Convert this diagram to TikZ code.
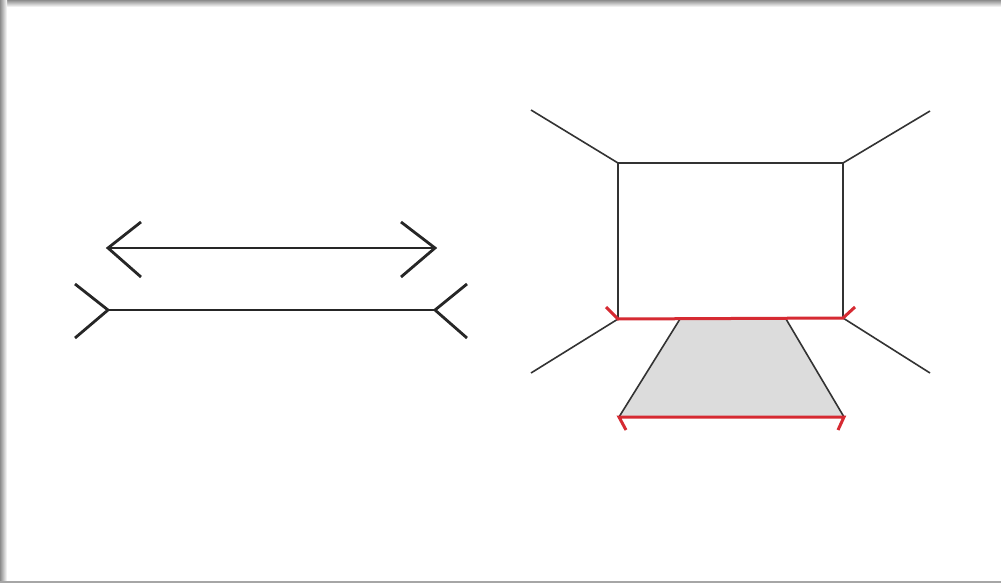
\documentclass[tikz,border=0pt]{standalone}
\begin{document}
\begin{tikzpicture}[x=1pt,y=-1pt,
  thick line/.style={line width=2.8pt,black!85,line cap=butt,line join=miter},
  thin line/.style={line width=1.6pt,black!80},
  red line/.style={line width=3pt,color=redline},
  ]
\definecolor{redline}{HTML}{D62A32}
\definecolor{trapfill}{HTML}{DCDCDC}
% background and frame
\fill[white] (0,0) rectangle (1001,583);
\useasboundingbox (0,0) rectangle (1001,583);
\shade[top color=black!45,bottom color=white] (0,0) rectangle (1001,7);
\shade[left color=black!45,right color=white] (0,0) rectangle (7,583);
\fill[black!35] (0,581) rectangle (1001,583);

% Mueller-Lyer: arrow with outward heads
\coordinate (a1) at (108,248);
\coordinate (a2) at (435,248);
\draw[thick line] (a1) -- (a2);
\draw[thick line] (141,222) coordinate (a1u) -- (a1) -- (141,277) coordinate (a1d);
\draw[thick line] (401,222) coordinate (a2u) -- (a2) -- (401,277) coordinate (a2d);

% line with inward fins
\coordinate (b1) at (108,310);
\coordinate (b2) at (435,310);
\draw[thick line] (b1) -- (b2);
\draw[thick line] (75,284) coordinate (b1u) -- (b1) -- (75,338) coordinate (b1d);
\draw[thick line] (467,284) coordinate (b2u) -- (b2) -- (467,338) coordinate (b2d);

% room
\coordinate (tl) at (618,163);
\coordinate (tr) at (843,163);
\coordinate (bl) at (618,319);
\coordinate (br) at (843,318);
\coordinate (ctl) at (531,110);
\coordinate (ctr) at (930,111);
\coordinate (cbl) at (531,373);
\coordinate (cbr) at (930,373);
\draw[thin line] (tl) -- (tr) -- (br) (bl) -- (tl);
\draw[thin line] (ctl) -- (tl) (ctr) -- (tr) (cbl) -- (bl) (cbr) -- (br);

% trapezoid rug
\coordinate (rtl) at (680,319);
\coordinate (rtr) at (786,319);
\coordinate (rbl) at (619,417);
\coordinate (rbr) at (844,417);
\fill[trapfill] (rtl) -- (rtr) -- (rbr) -- (rbl) -- cycle;
\draw[thin line] (rtl) -- (rbl) (rtr) -- (rbr);

% red lines with fins
\draw[red line] (606,307) coordinate (f1) -- (bl) -- (br) -- (855,307) coordinate (f2);
\draw[red line] (626,430) coordinate (f3) -- (rbl) -- (rbr) -- (838,430) coordinate (f4);
\end{tikzpicture}
\end{document}
